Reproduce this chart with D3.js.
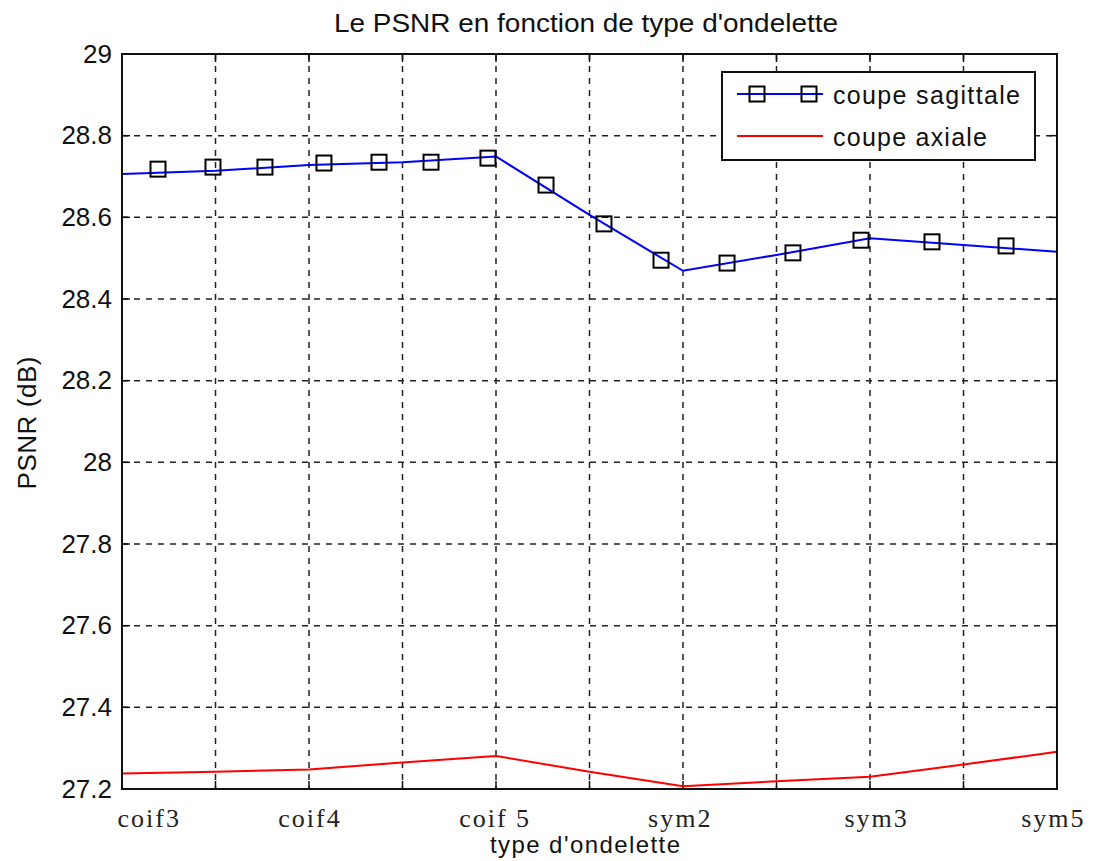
<!DOCTYPE html>
<html><head><meta charset="utf-8">
<script src="https://cdn.jsdelivr.net/npm/d3@7"></script>
<style>body{margin:0;background:#fff}svg{display:block}</style>
</head><body>
<svg id="c" width="1093" height="861"></svg>
<script>
// ---- data ----
const gridPositions = [0,1,2,3,4,5,6,7,8,9,10];
const sagittaleLine = [28.706,28.714,28.728,28.735,28.749,28.606,28.469,28.508,28.549,28.532,28.516];
const markerX = [0.385,0.973,1.529,2.160,2.749,3.305,3.914,4.535,5.155,5.765,6.471,7.176,7.904,8.663,9.455];
const markerY = [28.718,28.723,28.723,28.733,28.735,28.735,28.745,28.679,28.584,28.495,28.488,28.513,28.544,28.540,28.530];
const axialeLine = [27.238,27.242,27.248,27.265,27.281,27.242,27.207,27.219,27.230,27.260,27.291];
const waveletLabels = ["coif3","coif4","coif 5","sym2","sym3","sym5"];
const waveletLabelPos = [0.28,2.0,3.98,5.96,8.06,9.95];
const yTicks = [27.2,27.4,27.6,27.8,28,28.2,28.4,28.6,28.8,29];
const seriesNames = ["coupe sagittale","coupe axiale"];

const svg = d3.select("#c");
const L=122, R=1057, T=54, B=789;
const x = d3.scaleLinear().domain([0,10]).range([L,R]);
const y = d3.scaleLinear().domain([27.2,29]).range([B,T]);
const sans = "Liberation Sans, Arial, sans-serif";

// grid
const g = svg.append("g");
g.selectAll(".vg").data(gridPositions.slice(1,-1)).enter().append("line")
  .attr("x1",d=>x(d)).attr("x2",d=>x(d)).attr("y1",T).attr("y2",B)
  .attr("stroke","#222").attr("stroke-width",1.5).attr("stroke-dasharray","6,6");
g.selectAll(".hg").data(yTicks.slice(1,-1)).enter().append("line")
  .attr("y1",d=>y(d)).attr("y2",d=>y(d)).attr("x1",L).attr("x2",R)
  .attr("stroke","#222").attr("stroke-width",1.5).attr("stroke-dasharray","6,6");

// axes via d3
const yAxis = d3.axisLeft(y).tickValues(yTicks).tickSize(0).tickPadding(10)
  .tickFormat(d=>d3.format("")(+d.toFixed(1)));
const ya = svg.append("g").attr("transform",`translate(${L},0)`).call(yAxis);
ya.select(".domain").remove();
ya.selectAll("text").attr("font-family",sans).attr("font-size",26).attr("fill","#111");

// x tick labels
svg.selectAll(".xl").data(waveletLabels).enter().append("text")
  .attr("x",(d,i)=>x(waveletLabelPos[i])+1).attr("y",827)
  .attr("text-anchor","middle").attr("font-family","Liberation Serif, Times New Roman, serif")
  .attr("font-size",26).attr("letter-spacing",2).attr("fill","#222").text(d=>d);

// inner ticks
const tickLen=8;
gridPositions.forEach(d=>{
  svg.append("line").attr("x1",x(d)).attr("x2",x(d)).attr("y1",B).attr("y2",B-tickLen).attr("stroke","#111").attr("stroke-width",1.5);
  svg.append("line").attr("x1",x(d)).attr("x2",x(d)).attr("y1",T).attr("y2",T+tickLen).attr("stroke","#111").attr("stroke-width",1.5);
});
yTicks.forEach(d=>{
  svg.append("line").attr("y1",y(d)).attr("y2",y(d)).attr("x1",L).attr("x2",L+tickLen).attr("stroke","#111").attr("stroke-width",1.5);
  svg.append("line").attr("y1",y(d)).attr("y2",y(d)).attr("x1",R).attr("x2",R-tickLen).attr("stroke","#111").attr("stroke-width",1.5);
});

// lines
const line = d3.line().x((d,i)=>x(gridPositions[i])).y(d=>y(d));
svg.append("path").attr("d",line(sagittaleLine)).attr("fill","none").attr("stroke","#0000ff").attr("stroke-width",2);
svg.append("path").attr("d",line(axialeLine)).attr("fill","none").attr("stroke","#ff0000").attr("stroke-width",2);

// markers
const ms=15;
svg.selectAll(".mk").data(markerX).enter().append("rect")
  .attr("x",(d)=>x(d)-ms/2).attr("y",(d,i)=>y(markerY[i])-ms/2)
  .attr("width",ms).attr("height",ms).attr("fill","none").attr("stroke","#000").attr("stroke-width",2);

// box
svg.append("rect").attr("x",L).attr("y",T).attr("width",R-L).attr("height",B-T)
  .attr("fill","none").attr("stroke","#111").attr("stroke-width",2);

// legend
const lg = svg.append("g");
lg.append("rect").attr("x",722).attr("y",72).attr("width",313).attr("height",88)
  .attr("fill","#fff").attr("stroke","#111").attr("stroke-width",2);
lg.append("line").attr("x1",737).attr("x2",823).attr("y1",94).attr("y2",94).attr("stroke","#0000ff").attr("stroke-width",2);
[757,809].forEach(cx=>lg.append("rect").attr("x",cx-ms/2).attr("y",94-ms/2).attr("width",ms).attr("height",ms)
  .attr("fill","none").attr("stroke","#000").attr("stroke-width",2));
lg.append("line").attr("x1",737).attr("x2",823).attr("y1",136).attr("y2",136).attr("stroke","#ff0000").attr("stroke-width",2);
const legendWidths = [187,154];
lg.selectAll("text").data(seriesNames).enter().append("text")
  .attr("x",833).attr("y",(d,i)=>104+i*42).attr("font-family",sans)
  .attr("font-size",25).attr("textLength",(d,i)=>legendWidths[i]).attr("lengthAdjust","spacing")
  .attr("fill","#111").text(d=>d);

// titles
svg.append("text").attr("x",586).attr("y",32).attr("text-anchor","middle")
  .attr("font-family",sans).attr("font-size",26).attr("textLength",504).attr("lengthAdjust","spacingAndGlyphs")
  .attr("fill","#111").text("Le PSNR en fonction de type d'ondelette");
svg.append("text").attr("x",585).attr("y",853).attr("text-anchor","middle")
  .attr("font-family",sans).attr("font-size",24).attr("textLength",190).attr("lengthAdjust","spacing")
  .attr("fill","#111").text("type d'ondelette");
svg.append("text").attr("transform","translate(36,423) rotate(-90)").attr("text-anchor","middle")
  .attr("font-family",sans).attr("font-size",26).attr("textLength",133).attr("lengthAdjust","spacing")
  .attr("fill","#111").text("PSNR (dB)");
</script>
</body></html>
